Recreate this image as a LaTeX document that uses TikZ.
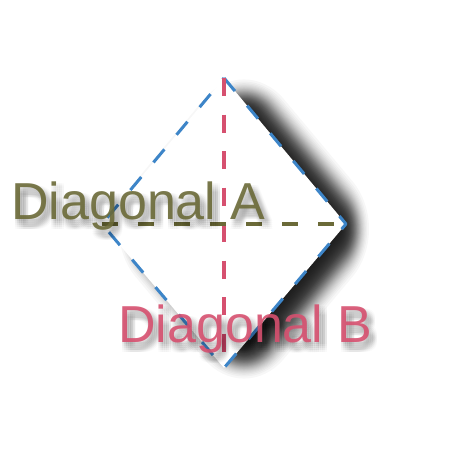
\documentclass[tikz,border=0pt]{standalone}
\usepackage{fontspec}
\setmainfont{Liberation Sans}
\definecolor{diagblue}{HTML}{3D85C8}
\definecolor{diagred}{HTML}{D6506F}
\definecolor{diagolive}{HTML}{6B6A38}
\begin{document}
\begin{tikzpicture}[x=1pt,y=-1pt,
  edgeline/.style={draw=diagblue,line width=3pt,dash pattern=on 17pt off 19pt,line join=round},
  diagA/.style={draw=diagolive,line width=3.5pt,dash pattern=on 16pt off 20pt},
  diagB/.style={draw=diagred,line width=3.5pt,dash pattern=on 18pt off 18.5pt},
  lbl/.style={inner sep=0pt,anchor=base west,font=\fontsize{52}{60}\selectfont}]
\useasboundingbox (0,0) rectangle (450,450);
\fill[white] (0,0) rectangle (450,450);
% diamond shadow (manual gaussian-like blur)
\foreach \k in {3,...,58}{
  \pgfmathsetmacro\p{(\k-0.5)/60}
  \pgfmathsetmacro\d{11*ln(\p/(1-\p))/1.702}
  \pgfmathsetmacro\s{1+\d/93.6}
  \pgfmathsetmacro\rc{max(1,1.4*\d+34)}
  \fill[black,opacity=0.03,rounded corners=\rc pt] ({244},{229-146*\s}) -- ({244+122*\s},{229}) -- ({244},{229+146*\s}) -- ({244-122*\s},{229}) -- cycle;
}
\coordinate (T) at (224,78);
\coordinate (R) at (346,224);
\coordinate (B) at (224,368);
\coordinate (L) at (102,224);
\fill[white] (T) -- (R) -- (B) -- (L) -- cycle;
\path[edgeline] (T) -- (R) -- (B) -- (L) -- cycle;
\draw[diagB] (T) -- (B);
\draw[diagA] (L) -- (R);
% text shadows
\foreach \dx in {-4,-2,0,2,4}{
  \foreach \dy in {-4,-2,0,2,4}{
    \node[lbl,text=black,text opacity=0.02] at (11+4+\dx,219+6+\dy) {Diagonal A};
    \node[lbl,text=black,text opacity=0.02] at (118+4+\dx,342+6+\dy) {Diagonal B};
  }
}
\node[lbl,text=diagolive,text opacity=0.9] (labA) at (11,219) {Diagonal A};
\node[lbl,text=diagred,text opacity=0.9] (labB) at (118,342) {Diagonal B};
\end{tikzpicture}
\end{document}
